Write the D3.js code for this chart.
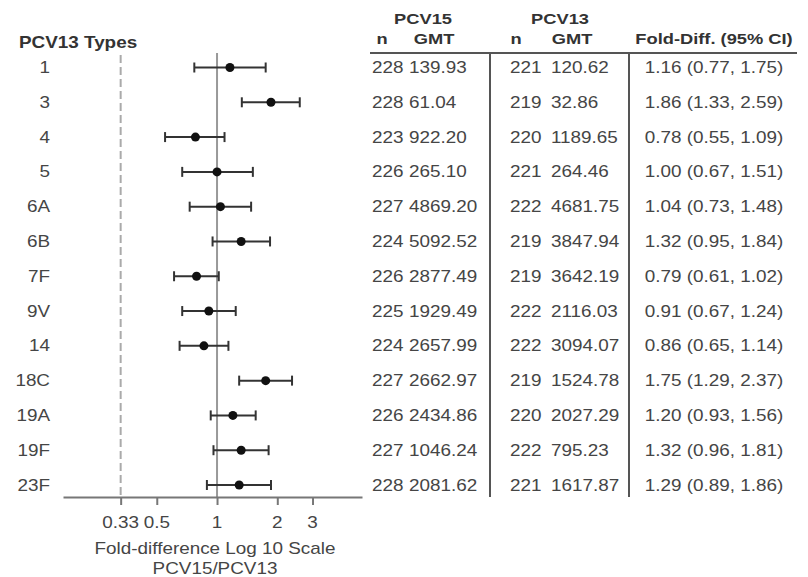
<!DOCTYPE html>
<html>
<head>
<meta charset="utf-8">
<script src="https://cdn.jsdelivr.net/npm/d3@7"></script>
<style>
  body { margin: 0; background: #fff; }
  text { font-family: "Liberation Sans", Arial, sans-serif; }
</style>
</head>
<body>
<div id="chart"></div>
<script>
var types = ["1", "3", "4", "5", "6A", "6B", "7F", "9V", "14", "18C", "19A", "19F", "23F"];
var pcv15N = [228, 228, 223, 226, 227, 224, 226, 225, 224, 227, 226, 227, 228];
var pcv15Gmt = ["139.93", "61.04", "922.20", "265.10", "4869.20", "5092.52", "2877.49", "1929.49", "2657.99", "2662.97", "2434.86", "1046.24", "2081.62"];
var pcv13N = [221, 219, 220, 221, 222, 219, 219, 222, 222, 219, 220, 222, 221];
var pcv13Gmt = ["120.62", "32.86", "1189.65", "264.46", "4681.75", "3847.94", "3642.19", "2116.03", "3094.07", "1524.78", "2027.29", "795.23", "1617.87"];
var foldDiff = [1.16, 1.86, 0.78, 1.00, 1.04, 1.32, 0.79, 0.91, 0.86, 1.75, 1.20, 1.32, 1.29];
var ciLow = [0.77, 1.33, 0.55, 0.67, 0.73, 0.95, 0.61, 0.67, 0.65, 1.29, 0.93, 0.96, 0.89];
var ciHigh = [1.75, 2.59, 1.09, 1.51, 1.48, 1.84, 1.02, 1.24, 1.14, 2.37, 1.56, 1.81, 1.86];
var tickValues = [0.33, 0.5, 1, 2, 3];

var width = 808, height = 577;
var sx = 1.18; // text in the picture is a bit stretched sideways

var svg = d3.select("#chart").append("svg")
    .attr("width", width)
    .attr("height", height);

var xScale = d3.scaleLog()
    .domain([0.17, 5.3])
    .range([63, 362]);

var yScale = d3.scalePoint()
    .domain(types)
    .range([67.5, 485]);

var axisY = 497;
var textColor = "#454545";

// put a text at x,y, stretched like the picture
function label(x, y, s, anchor, bold, fill, size) {
  return svg.append("text")
      .attr("transform", "translate(" + x + "," + y + ") scale(" + sx + ",1)")
      .attr("dy", "0.35em")
      .attr("text-anchor", anchor || "start")
      .style("font-size", (size || 16) + "px")
      .style("font-weight", bold ? "bold" : "normal")
      .style("fill", fill || textColor)
      .text(s);
}

// left title
label(19, 42, "PCV13 Types", "start", true, "#333");

// row labels
types.forEach(function(t) {
  label(50, yScale(t), t, "end");
});

// reference lines
svg.append("line")
    .attr("x1", xScale(0.33)).attr("x2", xScale(0.33))
    .attr("y1", 55).attr("y2", axisY)
    .style("stroke", "#aaa").style("stroke-width", 2)
    .style("stroke-dasharray", "8,4");

svg.append("line")
    .attr("x1", xScale(1)).attr("x2", xScale(1))
    .attr("y1", 53).attr("y2", axisY)
    .style("stroke", "#999").style("stroke-width", 2);

// x axis
var xAxis = svg.append("g")
    .attr("transform", "translate(0," + axisY + ")")
    .call(d3.axisBottom(xScale)
      .tickValues(tickValues)
      .tickSize(8)
      .tickSizeOuter(0)
      .tickFormat(function(d) { return String(d); }));

xAxis.select(".domain").style("stroke", "#777").style("stroke-width", 2);
xAxis.selectAll(".tick line").style("stroke", "#777").style("stroke-width", 2);
xAxis.selectAll(".tick text").remove();

tickValues.forEach(function(v) {
  label(xScale(v), 522, String(v), "middle");
});

label(215, 548, "Fold-difference Log 10 Scale", "middle");
label(215, 568, "PCV15/PCV13", "middle");

// error bars and points
var rows = types.map(function(t, i) {
  return {type: t, est: foldDiff[i], lo: ciLow[i], hi: ciHigh[i]};
});

var bars = svg.append("g").selectAll("g").data(rows).enter().append("g");

bars.append("line")
    .attr("x1", function(d) { return xScale(d.lo); })
    .attr("x2", function(d) { return xScale(d.hi); })
    .attr("y1", function(d) { return yScale(d.type); })
    .attr("y2", function(d) { return yScale(d.type); })
    .style("stroke", "#333").style("stroke-width", 2);

bars.append("line")
    .attr("x1", function(d) { return xScale(d.lo); })
    .attr("x2", function(d) { return xScale(d.lo); })
    .attr("y1", function(d) { return yScale(d.type) - 5; })
    .attr("y2", function(d) { return yScale(d.type) + 5; })
    .style("stroke", "#333").style("stroke-width", 2);

bars.append("line")
    .attr("x1", function(d) { return xScale(d.hi); })
    .attr("x2", function(d) { return xScale(d.hi); })
    .attr("y1", function(d) { return yScale(d.type) - 5; })
    .attr("y2", function(d) { return yScale(d.type) + 5; })
    .style("stroke", "#333").style("stroke-width", 2);

bars.append("circle")
    .attr("cx", function(d) { return xScale(d.est); })
    .attr("cy", function(d) { return yScale(d.type); })
    .attr("r", 4.5)
    .style("fill", "#111");

// table headers
label(423, 19, "PCV15", "middle", true, "#333", 15.5);
label(560, 19, "PCV13", "middle", true, "#333", 15.5);
label(382, 39, "n", "middle", true, "#333", 15.5);
label(434, 39, "GMT", "middle", true, "#333", 15.5);
label(516, 39, "n", "middle", true, "#333", 15.5);
label(572, 39, "GMT", "middle", true, "#333", 15.5);
label(714, 39, "Fold-Diff. (95% CI)", "middle", true, "#333", 15.5);

svg.append("line")
    .attr("x1", 370).attr("x2", 797)
    .attr("y1", 53).attr("y2", 53)
    .style("stroke", "#555").style("stroke-width", 2);

svg.append("line")
    .attr("x1", 490).attr("x2", 490)
    .attr("y1", 53).attr("y2", axisY)
    .style("stroke", "#555").style("stroke-width", 2);

svg.append("line")
    .attr("x1", 629).attr("x2", 629)
    .attr("y1", 53).attr("y2", axisY)
    .style("stroke", "#555").style("stroke-width", 2);

// table rows
types.forEach(function(t, i) {
  var y = yScale(t);
  label(372, y, String(pcv15N[i]), "start");
  label(409, y, pcv15Gmt[i], "start");
  label(510, y, String(pcv13N[i]), "start");
  label(551, y, pcv13Gmt[i], "start");
  label(714, y, foldDiff[i].toFixed(2) + " (" + ciLow[i].toFixed(2) + ", " + ciHigh[i].toFixed(2) + ")", "middle");
});
</script>
</body>
</html>
